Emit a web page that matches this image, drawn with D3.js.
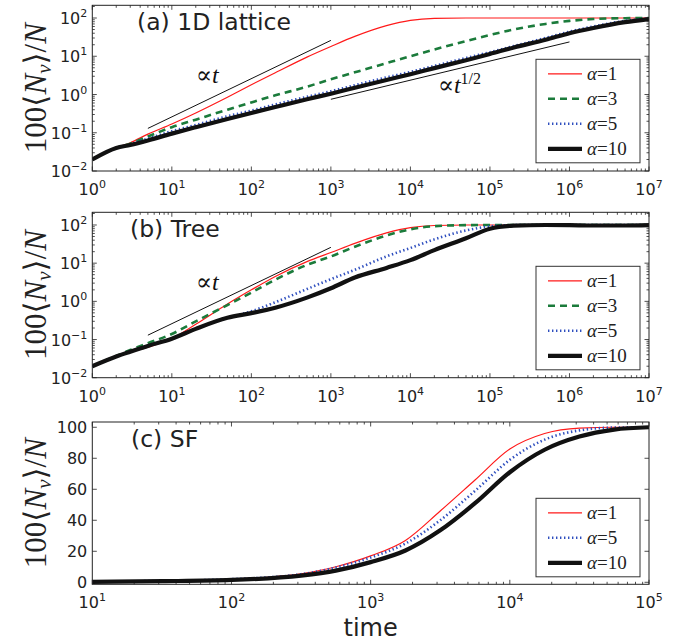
<!DOCTYPE html>
<html lang="en">
<head>
  <meta charset="UTF-8">
  <title>Visited nodes vs time</title>
  <script src="https://d3js.org/d3.v7.min.js"></script>
  <style>
    body { margin: 0; background: #ffffff; }
    svg { display: block; }
    .math { font-family: "Liberation Serif", "DejaVu Serif", serif; }
    .sans { font-family: "DejaVu Sans", sans-serif; }
  </style>
</head>
<body>
  <script>
    // values
    const timesAB = [1, 2, 3, 5, 10, 20, 50, 100, 200, 500, 1e3, 2e3, 5e3, 1e4, 2e4, 5e4, 1e5, 2e5, 5e5, 1e6, 2e6, 5e6, 1e7];

    const latticeA1  = [0.02, 0.04, 0.055, 0.092, 0.17, 0.33, 0.85, 1.8, 3.7, 9.5, 18, 33, 63, 87, 98, 100, 100, 100, 100, 100, 100, 100, 100];
    const latticeA3  = [0.02, 0.04, 0.052, 0.08, 0.14, 0.22, 0.4, 0.62, 0.95, 1.6, 2.5, 3.8, 6.6, 10, 15, 25, 36, 50, 70, 84, 94, 99, 100];
    const latticeA5  = [0.02, 0.04, 0.05, 0.07, 0.11, 0.16, 0.27, 0.38, 0.55, 0.87, 1.22, 1.75, 2.8, 3.9, 5.6, 9, 12.8, 18.5, 30, 44, 60, 84, 97];
    const latticeA10 = [0.02, 0.04, 0.048, 0.063, 0.095, 0.14, 0.23, 0.33, 0.47, 0.75, 1.05, 1.5, 2.4, 3.4, 4.9, 7.9, 11.5, 17, 27, 40, 55, 78, 94];

    const treeA1  = [0.02, 0.035, 0.046, 0.063, 0.105, 0.25, 0.85, 2.0, 4.5, 11, 19, 33, 62, 85, 97, 100, 100, 100, 100, 100, 100, 100, 100];
    const treeA3  = [0.02, 0.037, 0.053, 0.08, 0.14, 0.3, 0.8, 1.7, 3.7, 9, 15, 27, 53, 77, 93, 99, 100, 100, 100, 100, 100, 100, 100];
    const treeA5  = [0.02, 0.036, 0.048, 0.068, 0.105, 0.19, 0.37, 0.55, 0.95, 2.1, 3.8, 6.7, 15, 25, 42, 72, 92, 99, 100, 100, 100, 100, 100];
    const treeA10 = [0.02, 0.036, 0.048, 0.068, 0.105, 0.19, 0.37, 0.49, 0.68, 1.25, 2.2, 4.2, 7.5, 12, 22, 45, 80, 96, 100, 99, 97, 97, 99];

    const timesC = [10, 32, 100, 316, 562, 1000, 1778, 3162, 5623, 10000, 17783, 31623, 56234, 100000];
    const sfA1  = [0.4, 0.9, 2, 5.5, 10, 17, 27, 46, 66, 86, 96, 99.5, 100, 100];
    const sfA5  = [0.4, 0.9, 2, 5.2, 9.5, 16, 25, 40, 59, 79, 92, 98, 99.8, 100];
    const sfA10 = [0.3, 0.7, 1.5, 4.3, 7.5, 13, 20.5, 33.5, 51, 71, 85.5, 94, 98.5, 100];

    // guide lines: ∝t and ∝t^(1/2)
    const guideLinT = [5, 1000];
    const guideLinV = [0.13, 26];
    const guideSqrtT = [1000, 1e6];
    const guideSqrtV = [0.75, 23.7];

    const styles = {
      "1":  { color: "#ff1a1a", width: 1.2, dash: null },
      "3":  { color: "#1b7b3b", width: 2.6, dash: "7,5" },
      "5":  { color: "#2f4fbf", width: 2.6, dash: "1.4,2.6" },
      "10": { color: "#111111", width: 4.2, dash: null }
    };

    const width = 682, height = 643;
    const left = 92.3, right = 649;

    const svg = d3.select("body").append("svg")
        .attr("width", width)
        .attr("height", height);

    const zip = (ts, vs) => ts.map((t, i) => [t, vs[i]]);

    const panels = [
      {
        id: "a", title: "(a) 1D lattice", titleX: 137, top: 5.3, bottom: 171,
        xDomain: [1, 1e7], yLog: true, yDomain: [0.01, 215],
        series: [["1", zip(timesAB, latticeA1)], ["3", zip(timesAB, latticeA3)],
                 ["5", zip(timesAB, latticeA5)], ["10", zip(timesAB, latticeA10)]],
        guides: [
          { pts: zip(guideLinT, guideLinV), label: "t", sup: null, at: [20, 1.95] },
          { pts: zip(guideSqrtT, guideSqrtV), label: "t", sup: "1/2", at: [2.2e4, 1.1] }
        ],
        legendTop: 59.3
      },
      {
        id: "b", title: "(b) Tree", titleX: 130, top: 212.3, bottom: 377.7,
        xDomain: [1, 1e7], yLog: true, yDomain: [0.01, 215],
        series: [["1", zip(timesAB, treeA1)], ["3", zip(timesAB, treeA3)],
                 ["5", zip(timesAB, treeA5)], ["10", zip(timesAB, treeA10)]],
        guides: [
          { pts: zip(guideLinT, guideLinV), label: "t", sup: null, at: [20, 1.95] }
        ],
        legendTop: 266.3
      },
      {
        id: "c", title: "(c) SF", titleX: 131, top: 422, bottom: 584.3,
        xDomain: [10, 1e5], yLog: false, yDomain: [-1.3, 103.4],
        series: [["1", zip(timesC, sfA1)], ["5", zip(timesC, sfA5)], ["10", zip(timesC, sfA10)]],
        guides: [],
        legendTop: 498.3
      }
    ];

    const supDigits = e => (e < 0 ? "\u2212" : "") + Math.abs(e);

    function logLabel(sel, e) {
      sel.append("tspan").text("10");
      sel.append("tspan").attr("dy", -7).style("font-size", "11px").text(supDigits(e));
    }

    panels.forEach(p => {
      const x = d3.scaleLog().domain(p.xDomain).range([left, right]);
      const y = (p.yLog ? d3.scaleLog() : d3.scaleLinear()).domain(p.yDomain).range([p.bottom, p.top]);

      const g = svg.append("g");

      g.append("clipPath").attr("id", `clip-${p.id}`)
        .append("rect")
          .attr("x", left).attr("y", p.top)
          .attr("width", right - left).attr("height", p.bottom - p.top);

      // ticks on all four sides, pointing inward
      const xt = x.ticks().filter(t => t >= p.xDomain[0] && t <= p.xDomain[1]);
      const isMajor = t => Math.abs(Math.log10(t) - Math.round(Math.log10(t))) < 1e-9;
      const ticks = g.append("g").attr("stroke", "#222").attr("stroke-width", 0.8);
      xt.forEach(t => {
        const len = isMajor(t) ? 4.5 : 2.5;
        const px = x(t);
        ticks.append("line").attr("x1", px).attr("x2", px).attr("y1", p.bottom).attr("y2", p.bottom - len);
        ticks.append("line").attr("x1", px).attr("x2", px).attr("y1", p.top).attr("y2", p.top + len);
      });
      const yt = p.yLog
        ? y.ticks().filter(t => t >= p.yDomain[0] && t <= p.yDomain[1])
        : d3.range(0, 101, 20);
      yt.forEach(t => {
        const major = p.yLog ? isMajor(t) : true;
        const len = major ? 4.5 : 2.5;
        const py = y(t);
        ticks.append("line").attr("y1", py).attr("y2", py).attr("x1", left).attr("x2", left + len);
        ticks.append("line").attr("y1", py).attr("y2", py).attr("x1", right).attr("x2", right - len);
      });

      // tick labels
      const labels = g.append("g")
          .attr("class", "sans")
          .style("font-size", "16px")
          .attr("fill", "#222");
      xt.filter(isMajor).forEach(t => {
        labels.append("text")
            .attr("x", x(t))
            .attr("y", p.bottom + 24)
            .attr("text-anchor", "middle")
            .call(s => logLabel(s, Math.round(Math.log10(t))));
      });
      yt.filter(t => !p.yLog || isMajor(t)).forEach(t => {
        const txt = labels.append("text")
            .attr("x", left - 5)
            .attr("y", y(t) + 6)
            .attr("text-anchor", "end");
        if (p.yLog) logLabel(txt, Math.round(Math.log10(t)));
        else txt.text(t);
      });

      // guide lines
      const line = d3.line().x(d => x(d[0])).y(d => y(d[1]));
      p.guides.forEach(gd => {
        g.append("path")
            .attr("d", line(gd.pts))
            .attr("fill", "none")
            .attr("stroke", "#111")
            .attr("stroke-width", 1);
        const lab = g.append("text")
            .attr("class", "math")
            .attr("x", x(gd.at[0]))
            .attr("y", y(gd.at[1]))
            .style("font-size", "24px")
            .attr("fill", "#111");
        lab.append("tspan").text("\u221D");
        lab.append("tspan").style("font-style", "italic").text(gd.label);
        if (gd.sup) lab.append("tspan").attr("dy", -9).style("font-size", "16px").text(gd.sup);
      });

      // curves
      const curve = d3.line()
          .x(d => x(d[0]))
          .y(d => y(d[1]))
          .curve(d3.curveMonotoneX);
      g.append("g")
          .attr("clip-path", `url(#clip-${p.id})`)
        .selectAll("path")
        .data(p.series)
        .join("path")
          .attr("d", d => curve(d[1]))
          .attr("fill", "none")
          .attr("stroke", d => styles[d[0]].color)
          .attr("stroke-width", d => styles[d[0]].width)
          .attr("stroke-dasharray", d => styles[d[0]].dash)
          .attr("stroke-linejoin", "round");

      // frame
      g.append("rect")
          .attr("x", left).attr("y", p.top)
          .attr("width", right - left).attr("height", p.bottom - p.top)
          .attr("fill", "none")
          .attr("stroke", "#222")
          .attr("stroke-width", 1);

      // panel title
      g.append("text")
          .attr("class", "sans")
          .attr("x", p.titleX)
          .attr("y", p.top + 25)
          .style("font-size", "23.5px")
          .attr("fill", "#222")
          .text(p.title);

      // legend
      const n = p.series.length;
      const lg = g.append("g");
      lg.append("rect")
          .attr("x", 536).attr("y", p.legendTop)
          .attr("width", 104).attr("height", 14 + (n - 1) * 25 + 14.5)
          .attr("fill", "#fff")
          .attr("stroke", "#333")
          .attr("stroke-width", 1);
      p.series.forEach((s, i) => {
        const st = styles[s[0]];
        const cy = p.legendTop + 14.5 + i * 25;
        lg.append("line")
            .attr("x1", 548).attr("x2", 582)
            .attr("y1", cy).attr("y2", cy)
            .attr("stroke", st.color)
            .attr("stroke-width", st.width)
            .attr("stroke-dasharray", st.dash);
        const t = lg.append("text")
            .attr("class", "math")
            .attr("x", 587).attr("y", cy + 6)
            .style("font-size", "19px")
            .attr("fill", "#222");
        t.append("tspan").style("font-style", "italic").text("\u03B1");
        t.append("tspan").text("=" + s[0]);
      });

      // y label
      const cy = (p.top + p.bottom) / 2;
      const yl = g.append("text")
          .attr("class", "math")
          .attr("transform", `translate(46,${cy}) rotate(-90)`)
          .attr("text-anchor", "middle")
          .style("font-size", "31px")
          .attr("fill", "#222");
      yl.append("tspan").text("100\u27E8");
      yl.append("tspan").style("font-style", "italic").text("N");
      yl.append("tspan").attr("dy", 5).style("font-size", "21px").style("font-style", "italic").text("v");
      yl.append("tspan").attr("dy", -5).text("\u27E9/");
      yl.append("tspan").style("font-style", "italic").text("N");
    });

    svg.append("text")
        .attr("class", "sans")
        .attr("x", (left + right) / 2)
        .attr("y", 636)
        .attr("text-anchor", "middle")
        .style("font-size", "24px")
        .attr("fill", "#222")
        .text("time");
  </script>
</body>
</html>
